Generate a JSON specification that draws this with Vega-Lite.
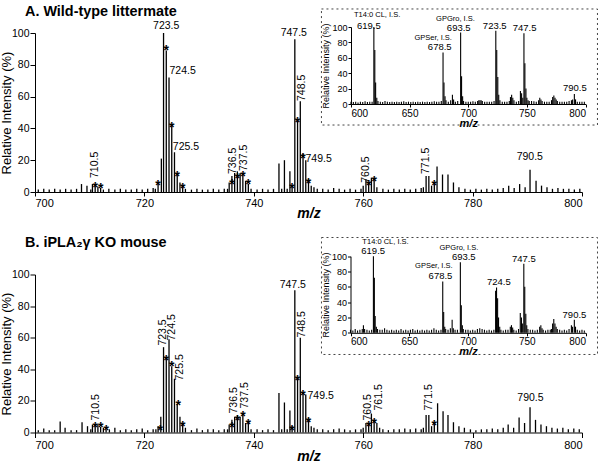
{
"$schema": "https://vega.github.io/schema/vega-lite/v6.json",
"background": "white",
"padding": {"left": 0, "top": 4, "right": 2, "bottom": 0},
"spacing": 14.5,
"config": {
  "font": "Liberation Sans",
  "view": {"stroke": null},
  "axis": {"domainColor": "black", "tickColor": "black", "labelColor": "black", "titleColor": "black", "grid": false, "labelFont": "Liberation Sans", "titleFont": "Liberation Sans", "domainWidth": 1, "tickWidth": 1, "labelOverlap": false},
  "title": {"color": "black", "font": "Liberation Sans"}
},
"datasets": {
  "wtMain": [
    {"mz":700.6,"i":1.5},{"mz":701.6,"i":2},{"mz":702.6,"i":1.5},{"mz":703.6,"i":2},{"mz":704.6,"i":1.5},{"mz":705.6,"i":2},{"mz":706.6,"i":1.5},{"mz":707.6,"i":2},{"mz":708.5,"i":5},{"mz":709.5,"i":4},{"mz":710.2,"i":1.5},{"mz":710.5,"i":5},{"mz":711.0,"i":4},{"mz":711.5,"i":3.5},{"mz":712.0,"i":2.5},{"mz":712.5,"i":1.5},{"mz":713.5,"i":2},{"mz":714.6,"i":1.5},{"mz":715.6,"i":2},{"mz":716.6,"i":1.5},{"mz":717.6,"i":1.5},{"mz":718.6,"i":2},{"mz":719.6,"i":1.5},{"mz":720.6,"i":2},{"mz":721.6,"i":2.5},{"mz":722.0,"i":2},{"mz":722.5,"i":5},{"mz":723.1,"i":21},{"mz":723.5,"i":100},{"mz":724.0,"i":89},{"mz":724.5,"i":72},{"mz":725.0,"i":42},{"mz":725.5,"i":25},{"mz":726.0,"i":11},{"mz":726.5,"i":6},{"mz":727.0,"i":4},{"mz":727.5,"i":2},{"mz":728.6,"i":1.5},{"mz":729.6,"i":2},{"mz":730.6,"i":1.5},{"mz":731.6,"i":1.5},{"mz":732.6,"i":2},{"mz":733.6,"i":1.5},{"mz":734.6,"i":2},{"mz":735.2,"i":2},{"mz":735.5,"i":6},{"mz":736.0,"i":10},{"mz":736.5,"i":12},{"mz":737.0,"i":13},{"mz":737.5,"i":12},{"mz":738.0,"i":11},{"mz":738.5,"i":7},{"mz":739.0,"i":5},{"mz":739.5,"i":2},{"mz":740.6,"i":1.5},{"mz":741.6,"i":2},{"mz":742.6,"i":1.5},{"mz":743.6,"i":2},{"mz":744.6,"i":18},{"mz":745.1,"i":2},{"mz":745.6,"i":20},{"mz":746.1,"i":2},{"mz":746.6,"i":13},{"mz":747.0,"i":4},{"mz":747.5,"i":96},{"mz":748.0,"i":45},{"mz":748.5,"i":57},{"mz":749.0,"i":24},{"mz":749.5,"i":20},{"mz":750.0,"i":8},{"mz":750.5,"i":4},{"mz":751.0,"i":3},{"mz":751.6,"i":2},{"mz":752.6,"i":2},{"mz":753.6,"i":1.5},{"mz":754.6,"i":2.5},{"mz":755.6,"i":2},{"mz":756.6,"i":1.5},{"mz":757.6,"i":2},{"mz":758.6,"i":1.5},{"mz":759.6,"i":2},{"mz":760.0,"i":4},{"mz":760.5,"i":8},{"mz":761.0,"i":6},{"mz":761.5,"i":9},{"mz":762.0,"i":9},{"mz":762.5,"i":3},{"mz":763.6,"i":2},{"mz":764.6,"i":1.5},{"mz":765.6,"i":2},{"mz":766.6,"i":1.5},{"mz":767.6,"i":2},{"mz":768.6,"i":1.5},{"mz":769.6,"i":2},{"mz":770.6,"i":2.5},{"mz":771.0,"i":3},{"mz":771.5,"i":10},{"mz":772.0,"i":10},{"mz":772.5,"i":4},{"mz":773.0,"i":5},{"mz":773.5,"i":16},{"mz":774.5,"i":11},{"mz":775.5,"i":11},{"mz":776.5,"i":6},{"mz":777.5,"i":3},{"mz":778.6,"i":2},{"mz":779.6,"i":1.5},{"mz":780.6,"i":2},{"mz":781.6,"i":1.5},{"mz":782.6,"i":2},{"mz":783.6,"i":1.5},{"mz":784.6,"i":2},{"mz":785.6,"i":2.5},{"mz":786.6,"i":4},{"mz":787.6,"i":2.5},{"mz":788.6,"i":5},{"mz":789.6,"i":3},{"mz":790.5,"i":14},{"mz":791.6,"i":7},{"mz":792.6,"i":4},{"mz":793.6,"i":3},{"mz":794.6,"i":2},{"mz":795.6,"i":2.5},{"mz":796.6,"i":2},{"mz":797.6,"i":2},{"mz":798.6,"i":1.5},{"mz":799.6,"i":2}
  ],
  "koMain": [
    {"mz":700.6,"i":1.5},{"mz":701.6,"i":2.5},{"mz":702.6,"i":1.5},{"mz":703.6,"i":1.5},{"mz":704.6,"i":7},{"mz":705.5,"i":3},{"mz":706.6,"i":1.5},{"mz":707.6,"i":1.5},{"mz":708.6,"i":6.5},{"mz":709.6,"i":4},{"mz":710.2,"i":2},{"mz":710.5,"i":5},{"mz":711.0,"i":5},{"mz":711.5,"i":5},{"mz":712.0,"i":3.5},{"mz":712.5,"i":3},{"mz":713.0,"i":2},{"mz":713.6,"i":2},{"mz":714.6,"i":3},{"mz":715.6,"i":1.5},{"mz":716.6,"i":2},{"mz":717.6,"i":1.5},{"mz":718.6,"i":2},{"mz":719.6,"i":2.5},{"mz":720.6,"i":1.5},{"mz":721.6,"i":2},{"mz":722.1,"i":2},{"mz":722.5,"i":4},{"mz":723.0,"i":10},{"mz":723.5,"i":54},{"mz":724.0,"i":47},{"mz":724.5,"i":59},{"mz":725.0,"i":42},{"mz":725.5,"i":34},{"mz":726.0,"i":18},{"mz":726.5,"i":10},{"mz":727.0,"i":5},{"mz":727.5,"i":3},{"mz":728.6,"i":1.5},{"mz":729.6,"i":2.5},{"mz":730.6,"i":1.5},{"mz":731.6,"i":2},{"mz":732.6,"i":2},{"mz":733.6,"i":1.5},{"mz":734.6,"i":2},{"mz":735.2,"i":2},{"mz":735.5,"i":5},{"mz":736.0,"i":8},{"mz":736.5,"i":10},{"mz":737.0,"i":11},{"mz":737.5,"i":10},{"mz":738.0,"i":12},{"mz":738.5,"i":6},{"mz":739.0,"i":6},{"mz":739.5,"i":2},{"mz":740.6,"i":2},{"mz":741.6,"i":1.5},{"mz":742.6,"i":2},{"mz":743.6,"i":1.5},{"mz":744.6,"i":25},{"mz":745.1,"i":2},{"mz":745.6,"i":19},{"mz":746.1,"i":2},{"mz":746.6,"i":14},{"mz":747.0,"i":4},{"mz":747.5,"i":90},{"mz":748.0,"i":34},{"mz":748.5,"i":60},{"mz":749.0,"i":25},{"mz":749.5,"i":24},{"mz":750.0,"i":9},{"mz":750.5,"i":4},{"mz":751.0,"i":3},{"mz":751.6,"i":2},{"mz":752.6,"i":2},{"mz":753.6,"i":1.5},{"mz":754.6,"i":2},{"mz":755.6,"i":2.5},{"mz":756.6,"i":2},{"mz":757.6,"i":1.5},{"mz":758.6,"i":2},{"mz":759.6,"i":2},{"mz":760.0,"i":3},{"mz":760.5,"i":6},{"mz":761.0,"i":6},{"mz":761.5,"i":12},{"mz":762.0,"i":8},{"mz":762.5,"i":6},{"mz":763.0,"i":3},{"mz":763.6,"i":2},{"mz":764.6,"i":1.5},{"mz":765.6,"i":2},{"mz":766.6,"i":2},{"mz":767.6,"i":2.5},{"mz":768.6,"i":2},{"mz":769.6,"i":2.5},{"mz":770.6,"i":2},{"mz":771.0,"i":3},{"mz":771.5,"i":11},{"mz":772.0,"i":11},{"mz":772.5,"i":4},{"mz":773.0,"i":6},{"mz":773.6,"i":18.5},{"mz":774.6,"i":13.5},{"mz":775.5,"i":11},{"mz":776.5,"i":6.5},{"mz":777.5,"i":4},{"mz":778.5,"i":3},{"mz":779.6,"i":2},{"mz":780.6,"i":1.5},{"mz":781.6,"i":2},{"mz":782.6,"i":2},{"mz":783.6,"i":2.5},{"mz":784.6,"i":2},{"mz":785.6,"i":3},{"mz":786.5,"i":5},{"mz":787.5,"i":3},{"mz":788.5,"i":9.5},{"mz":789.5,"i":6},{"mz":790.5,"i":16},{"mz":791.5,"i":8},{"mz":792.5,"i":5},{"mz":793.5,"i":4},{"mz":794.5,"i":3},{"mz":795.5,"i":2.5},{"mz":796.5,"i":3},{"mz":797.5,"i":2},{"mz":798.5,"i":2.5},{"mz":799.5,"i":2}
  ],
  "wtStars": [
    {"mz":711.0,"i":5},{"mz":712.0,"i":4.5},{"mz":722.5,"i":6},{"mz":724.0,"i":91},{"mz":725.0,"i":43},{"mz":726.0,"i":12},{"mz":727.0,"i":4.5},{"mz":736.0,"i":7},{"mz":737.0,"i":11},{"mz":738.0,"i":12},{"mz":739.0,"i":7},{"mz":747.0,"i":4.5},{"mz":748.0,"i":46},{"mz":749.0,"i":23},{"mz":750.0,"i":7.5},{"mz":761.0,"i":6},{"mz":762.0,"i":9},{"mz":773.0,"i":6}
  ],
  "koStars": [
    {"mz":711.0,"i":5.5},{"mz":712.0,"i":5.5},{"mz":713.0,"i":3.5},{"mz":722.9,"i":3.5},{"mz":724.0,"i":48},{"mz":725.0,"i":44},{"mz":726.2,"i":19},{"mz":727.0,"i":6},{"mz":736.0,"i":5.5},{"mz":737.0,"i":9.5},{"mz":738.0,"i":12.5},{"mz":739.0,"i":7},{"mz":747.0,"i":3.5},{"mz":748.0,"i":35},{"mz":749.0,"i":25.5},{"mz":750.0,"i":8.7},{"mz":761.0,"i":6},{"mz":762.0,"i":7.6},{"mz":773.0,"i":6.5}
  ],
  "wtLab": [
    {"mz":723.99,"i":101,"t":"723.5","k":"h"},{"mz":747.31,"i":97,"t":"747.5","k":"h"},{"mz":790.46,"i":19,"t":"790.5","k":"h"},
    {"mz":724.59,"i":76,"t":"724.5","k":"l"},{"mz":725.19,"i":28.5,"t":"725.5","k":"l"},{"mz":749.45,"i":20.6,"t":"749.5","k":"l"},
    {"mz":710.93,"i":8.8,"t":"710.5","k":"r"},{"mz":736.23,"i":11.3,"t":"736.5","k":"r"},{"mz":738.17,"i":13.2,"t":"737.5","k":"r"},{"mz":748.85,"i":57.2,"t":"748.5","k":"r"},{"mz":760.6,"i":5.8,"t":"760.5","k":"r"},{"mz":771.39,"i":11.3,"t":"771.5","k":"r"}
  ],
  "koLab": [
    {"mz":747.13,"i":90.5,"t":"747.5","k":"h"},{"mz":790.58,"i":18.7,"t":"790.5","k":"h"},
    {"mz":749.82,"i":23.4,"t":"749.5","k":"l"},
    {"mz":711.19,"i":7.6,"t":"710.5","k":"r"},{"mz":723.36,"i":55,"t":"723.5","k":"r"},{"mz":725.08,"i":58.2,"t":"724.5","k":"r"},{"mz":726.47,"i":32.9,"t":"725.5","k":"r"},{"mz":736.47,"i":12,"t":"736.5","k":"r"},{"mz":738.3,"i":15.2,"t":"737.5","k":"r"},{"mz":748.85,"i":60.1,"t":"748.5","k":"r"},{"mz":760.84,"i":7.6,"t":"760.5","k":"r"},{"mz":762.85,"i":13.9,"t":"761.5","k":"r"},{"mz":771.99,"i":13.9,"t":"771.5","k":"r"}
  ],
  "wtInset": [
    {"mz":600,"i":3},{"mz":602,"i":2.5},{"mz":604,"i":3},{"mz":606,"i":2},{"mz":608,"i":3},{"mz":610,"i":2.5},{"mz":612,"i":3.5},{"mz":614,"i":2.5},{"mz":616,"i":3},{"mz":618,"i":3},{"mz":619.5,"i":100},{"mz":620.3,"i":70},{"mz":621,"i":28},{"mz":622,"i":8},{"mz":623,"i":4},{"mz":625,"i":3},{"mz":627,"i":2.5},{"mz":629,"i":4},{"mz":631,"i":3},{"mz":633,"i":2.5},{"mz":635,"i":3},{"mz":637,"i":2.5},{"mz":639,"i":3},{"mz":641,"i":2.5},{"mz":643,"i":3},{"mz":645,"i":3.5},{"mz":647,"i":2.5},{"mz":649,"i":3},{"mz":651,"i":2.5},{"mz":653,"i":3},{"mz":655,"i":2.5},{"mz":657,"i":3},{"mz":659,"i":2.5},{"mz":661,"i":3},{"mz":663,"i":2.5},{"mz":665,"i":3},{"mz":667,"i":2.5},{"mz":669,"i":3},{"mz":671,"i":3.5},{"mz":673,"i":3},{"mz":675,"i":3},{"mz":677,"i":4},{"mz":678.5,"i":67},{"mz":679.3,"i":28},{"mz":680.2,"i":10},{"mz":681,"i":5},{"mz":683,"i":3},{"mz":685,"i":5},{"mz":686.5,"i":12},{"mz":687.5,"i":6},{"mz":689,"i":3},{"mz":691,"i":4},{"mz":693.5,"i":93},{"mz":694.3,"i":36},{"mz":695.2,"i":10},{"mz":696,"i":4},{"mz":698,"i":3},{"mz":700,"i":3},{"mz":702,"i":3},{"mz":704,"i":3.5},{"mz":706,"i":3},{"mz":708,"i":4},{"mz":709,"i":5},{"mz":710,"i":5},{"mz":711,"i":5},{"mz":712,"i":4},{"mz":714,"i":3},{"mz":716,"i":3},{"mz":718,"i":3},{"mz":720,"i":3},{"mz":722,"i":4},{"mz":723.5,"i":95},{"mz":724.3,"i":70},{"mz":725.2,"i":35},{"mz":726,"i":12},{"mz":727,"i":5},{"mz":729,"i":3},{"mz":731,"i":3},{"mz":733,"i":3},{"mz":735,"i":4},{"mz":736,"i":9},{"mz":737,"i":12},{"mz":738,"i":8},{"mz":739,"i":5},{"mz":741,"i":3},{"mz":743,"i":4},{"mz":744.5,"i":17},{"mz":745.5,"i":14},{"mz":746.5,"i":8},{"mz":747.5,"i":92},{"mz":748.3,"i":53},{"mz":749.2,"i":20},{"mz":750,"i":8},{"mz":751,"i":5},{"mz":752,"i":4},{"mz":754,"i":4},{"mz":756,"i":3.5},{"mz":758,"i":3},{"mz":760,"i":5},{"mz":761,"i":8},{"mz":762,"i":6},{"mz":763,"i":4},{"mz":765,"i":3},{"mz":767,"i":3},{"mz":769,"i":3},{"mz":771,"i":5},{"mz":772,"i":9},{"mz":773,"i":11},{"mz":774,"i":8},{"mz":775,"i":6},{"mz":776,"i":4},{"mz":778,"i":3},{"mz":780,"i":3},{"mz":782,"i":3},{"mz":784,"i":3},{"mz":786,"i":4},{"mz":788,"i":5},{"mz":789,"i":6},{"mz":790.5,"i":13},{"mz":791.5,"i":6},{"mz":793,"i":3},{"mz":795,"i":3},{"mz":797,"i":3},{"mz":799,"i":3}
  ],
  "koInset": [
    {"mz":600,"i":4},{"mz":602,"i":3},{"mz":604,"i":5},{"mz":606,"i":3},{"mz":608,"i":4},{"mz":610,"i":5},{"mz":611,"i":10},{"mz":612,"i":5},{"mz":614,"i":4},{"mz":616,"i":3},{"mz":618,"i":4},{"mz":619.5,"i":100},{"mz":620.3,"i":72},{"mz":621,"i":22},{"mz":622,"i":8},{"mz":623,"i":5},{"mz":625,"i":4},{"mz":627,"i":4},{"mz":629,"i":6},{"mz":631,"i":4},{"mz":633,"i":3},{"mz":635,"i":4},{"mz":637,"i":3},{"mz":639,"i":4},{"mz":641,"i":3},{"mz":643,"i":5},{"mz":645,"i":3},{"mz":647,"i":4},{"mz":649,"i":3},{"mz":651,"i":4},{"mz":653,"i":5},{"mz":655,"i":3},{"mz":657,"i":4},{"mz":659,"i":3},{"mz":661,"i":4},{"mz":663,"i":3},{"mz":665,"i":4},{"mz":667,"i":3},{"mz":669,"i":4},{"mz":671,"i":6},{"mz":673,"i":4},{"mz":675,"i":3},{"mz":677,"i":4},{"mz":678.5,"i":67},{"mz":679.3,"i":27},{"mz":680.2,"i":8},{"mz":681,"i":5},{"mz":683,"i":4},{"mz":685,"i":6},{"mz":686.5,"i":17},{"mz":687.5,"i":6},{"mz":689,"i":4},{"mz":691,"i":4},{"mz":693.5,"i":92},{"mz":694.3,"i":36},{"mz":695.2,"i":10},{"mz":696,"i":5},{"mz":698,"i":4},{"mz":700,"i":4},{"mz":702,"i":3},{"mz":704,"i":4},{"mz":706,"i":3},{"mz":708,"i":5},{"mz":710,"i":6},{"mz":712,"i":5},{"mz":714,"i":4},{"mz":716,"i":3},{"mz":718,"i":4},{"mz":720,"i":3},{"mz":722,"i":4},{"mz":723.5,"i":55},{"mz":724.3,"i":59},{"mz":725.2,"i":45},{"mz":726,"i":20},{"mz":727,"i":8},{"mz":728,"i":4},{"mz":730,"i":3},{"mz":732,"i":4},{"mz":734,"i":4},{"mz":736,"i":8},{"mz":737,"i":10},{"mz":738,"i":7},{"mz":739,"i":4},{"mz":741,"i":3},{"mz":743,"i":5},{"mz":744.5,"i":26},{"mz":745.5,"i":20},{"mz":746.5,"i":12},{"mz":747.5,"i":90},{"mz":748.3,"i":60},{"mz":749.2,"i":25},{"mz":750,"i":10},{"mz":751,"i":5},{"mz":753,"i":4},{"mz":755,"i":4},{"mz":757,"i":3},{"mz":759,"i":4},{"mz":761,"i":8},{"mz":762,"i":10},{"mz":763,"i":6},{"mz":764,"i":4},{"mz":766,"i":3},{"mz":768,"i":4},{"mz":770,"i":4},{"mz":771,"i":5},{"mz":772,"i":12},{"mz":773,"i":18},{"mz":774,"i":12},{"mz":775,"i":8},{"mz":776,"i":5},{"mz":778,"i":4},{"mz":780,"i":3},{"mz":782,"i":4},{"mz":784,"i":3},{"mz":786,"i":5},{"mz":788,"i":10},{"mz":789,"i":8},{"mz":790.5,"i":17},{"mz":791.5,"i":8},{"mz":793,"i":4},{"mz":795,"i":3},{"mz":797,"i":4},{"mz":799,"i":3}
  ],
  "wtInLab": [
    {"mz":622.3,"i":116,"t":"T14:0 CL, I.S.","k":"s"},{"mz":615.2,"i":101.3,"t":"619.5","k":"n"},
    {"mz":689.1,"i":111,"t":"GPGro, I.S.","k":"s"},{"mz":691.9,"i":99.1,"t":"693.5","k":"n"},
    {"mz":670.1,"i":86,"t":"GPSer, I.S.","k":"s"},{"mz":675.7,"i":74,"t":"678.5","k":"n"},
    {"mz":722.6,"i":101.3,"t":"723.5","k":"n"},{"mz":748.0,"i":99.1,"t":"747.5","k":"n"},{"mz":790.9,"i":20.4,"t":"790.5","k":"n"}
  ],
  "koInLab": [
    {"mz":629.8,"i":118.3,"t":"T14:0 CL, I.S.","k":"s"},{"mz":619.3,"i":106.5,"t":"619.5","k":"n"},
    {"mz":692.2,"i":111,"t":"GPGro, I.S.","k":"s"},{"mz":696.4,"i":99.6,"t":"693.5","k":"n"},
    {"mz":670.9,"i":87,"t":"GPSer, I.S.","k":"s"},{"mz":676.6,"i":74.8,"t":"678.5","k":"n"},
    {"mz":726.2,"i":66.1,"t":"724.5","k":"n"},{"mz":747.5,"i":96.6,"t":"747.5","k":"n"},{"mz":790.6,"i":22.6,"t":"790.5","k":"n"}
  ]
},
"vconcat": [
  {
    "title": {"text": "A. Wild-type littermate", "anchor": "start", "frame": "group", "fontSize": 14.4, "fontWeight": "bold", "dx": -10, "offset": -11},
    "width": 547, "height": 159,
    "resolve": {"scale": {"x": "independent", "y": "independent"}, "axis": {"x": "independent", "y": "independent"}},
    "layer": [
      {"data": {"name": "wtMain"}, "mark": {"type": "rule", "color": "black", "strokeWidth": 1.3},
       "encoding": {
         "x": {"field": "mz", "type": "quantitative", "scale": {"domain": [700, 800], "nice": false, "zero": false},
               "axis": {"orient": "bottom", "values": [700,720,740,760,780,800], "title": "m/z", "titleFontStyle": "italic", "titleFontWeight": "bold", "titleFontSize": 14, "labelFontSize": 11, "tickSize": 4, "labelPadding": 1, "titlePadding": -2}},
         "y": {"field": "i", "type": "quantitative", "scale": {"domain": [0, 100], "nice": false, "zero": false},
               "axis": {"orient": "left", "values": [0,20,40,60,80,100], "title": "Relative Intensity (%)", "titleFontSize": 13, "titleFontWeight": "normal", "labelFontSize": 10.5, "tickSize": 5, "labelPadding": 1, "titlePadding": -2}},
         "y2": {"datum": 0}}},
      {"data": {"name": "wtStars"}, "mark": {"type": "text", "text": "*", "fontSize": 14, "fontWeight": "bold", "baseline": "middle", "dy": 4, "color": "black"},
       "encoding": {"x": {"field": "mz", "type": "quantitative", "scale": {"domain": [700, 800], "nice": false, "zero": false}, "axis": null}, "y": {"field": "i", "type": "quantitative", "scale": {"domain": [0, 100], "nice": false, "zero": false}, "axis": null}}},
      {"data": {"name": "wtLab"}, "transform": [{"filter": "datum.k === 'h'"}], "mark": {"type": "text", "align": "center", "baseline": "bottom", "fontSize": 10.5, "color": "black"},
       "encoding": {"x": {"field": "mz", "type": "quantitative", "scale": {"domain": [700, 800], "nice": false, "zero": false}, "axis": null}, "y": {"field": "i", "type": "quantitative", "scale": {"domain": [0, 100], "nice": false, "zero": false}, "axis": null}, "text": {"field": "t"}}},
      {"data": {"name": "wtLab"}, "transform": [{"filter": "datum.k === 'l'"}], "mark": {"type": "text", "align": "left", "baseline": "middle", "fontSize": 10.5, "color": "black"},
       "encoding": {"x": {"field": "mz", "type": "quantitative", "scale": {"domain": [700, 800], "nice": false, "zero": false}, "axis": null}, "y": {"field": "i", "type": "quantitative", "scale": {"domain": [0, 100], "nice": false, "zero": false}, "axis": null}, "text": {"field": "t"}}},
      {"data": {"name": "wtLab"}, "transform": [{"filter": "datum.k === 'r'"}], "mark": {"type": "text", "align": "left", "baseline": "middle", "angle": 270, "fontSize": 10.5, "color": "black"},
       "encoding": {"x": {"field": "mz", "type": "quantitative", "scale": {"domain": [700, 800], "nice": false, "zero": false}, "axis": null}, "y": {"field": "i", "type": "quantitative", "scale": {"domain": [0, 100], "nice": false, "zero": false}, "axis": null}, "text": {"field": "t"}}},
      {"data": {"values": [{}]}, "mark": {"type": "rect", "filled": false, "stroke": "#444", "strokeWidth": 1, "strokeDash": [2, 3]},
       "encoding": {
         "x": {"datum": 574.8, "type": "quantitative", "scale": {"domain": [600, 800], "range": [316, 550.5], "nice": false, "zero": false}, "axis": null},
         "x2": {"datum": 810.2},
         "y": {"datum": -27.3, "type": "quantitative", "scale": {"domain": [0, 100], "range": [71, -6], "nice": false, "zero": false}, "axis": null},
         "y2": {"datum": 123.4}}},
      {"data": {"name": "wtInset"}, "mark": {"type": "rule", "color": "black", "strokeWidth": 1.1},
       "encoding": {
         "x": {"field": "mz", "type": "quantitative", "scale": {"domain": [600, 800], "range": [316, 550.5], "nice": false, "zero": false},
               "axis": {"orient": "bottom", "offset": -88, "values": [600,650,700,750,800], "title": "m/z", "titleFontStyle": "italic", "titleFontWeight": "bold", "titleFontSize": 11, "labelFontSize": 10, "tickSize": 3, "labelPadding": 1, "titlePadding": -1}},
         "y": {"field": "i", "type": "quantitative", "scale": {"domain": [0, 100], "range": [71, -6], "nice": false, "zero": false},
               "axis": {"orient": "left", "offset": -316, "values": [0,20,40,60,80,100], "title": "Relative Intensity (%)", "titleFontSize": 9, "titleFontWeight": "normal", "labelFontSize": 9, "tickSize": 3, "labelPadding": 1, "titlePadding": 1}},
         "y2": {"datum": 0}}},
      {"data": {"name": "wtInLab"}, "transform": [{"filter": "datum.k === 'n'"}], "mark": {"type": "text", "align": "center", "baseline": "middle", "fontSize": 9.5, "color": "black"},
       "encoding": {"x": {"field": "mz", "type": "quantitative", "scale": {"domain": [600, 800], "range": [316, 550.5], "nice": false, "zero": false}, "axis": null}, "y": {"field": "i", "type": "quantitative", "scale": {"domain": [0, 100], "range": [71, -6], "nice": false, "zero": false}, "axis": null}, "text": {"field": "t"}}},
      {"data": {"name": "wtInLab"}, "transform": [{"filter": "datum.k === 's'"}], "mark": {"type": "text", "align": "center", "baseline": "middle", "fontSize": 7.5, "color": "black"},
       "encoding": {"x": {"field": "mz", "type": "quantitative", "scale": {"domain": [600, 800], "range": [316, 550.5], "nice": false, "zero": false}, "axis": null}, "y": {"field": "i", "type": "quantitative", "scale": {"domain": [0, 100], "range": [71, -6], "nice": false, "zero": false}, "axis": null}, "text": {"field": "t"}}}
    ]
  },
  {
    "title": {"text": "B. iPLA₂γ KO mouse", "anchor": "start", "frame": "group", "fontSize": 14.4, "fontWeight": "bold", "dx": -10, "offset": -13},
    "width": 547, "height": 158,
    "resolve": {"scale": {"x": "independent", "y": "independent"}, "axis": {"x": "independent", "y": "independent"}},
    "layer": [
      {"data": {"name": "koMain"}, "mark": {"type": "rule", "color": "black", "strokeWidth": 1.3},
       "encoding": {
         "x": {"field": "mz", "type": "quantitative", "scale": {"domain": [700, 800], "nice": false, "zero": false},
               "axis": {"orient": "bottom", "values": [700,720,740,760,780,800], "title": "m/z", "titleFontStyle": "italic", "titleFontWeight": "bold", "titleFontSize": 14, "labelFontSize": 11, "tickSize": 5, "labelPadding": 2, "titlePadding": -1}},
         "y": {"field": "i", "type": "quantitative", "scale": {"domain": [0, 100], "nice": false, "zero": false},
               "axis": {"orient": "left", "values": [0,20,40,60,80,100], "title": "Relative Intensity (%)", "titleFontSize": 13, "titleFontWeight": "normal", "labelFontSize": 10.5, "tickSize": 5, "labelPadding": 1, "titlePadding": -2}},
         "y2": {"datum": 0}}},
      {"data": {"name": "koStars"}, "mark": {"type": "text", "text": "*", "fontSize": 14, "fontWeight": "bold", "baseline": "middle", "dy": 4, "color": "black"},
       "encoding": {"x": {"field": "mz", "type": "quantitative", "scale": {"domain": [700, 800], "nice": false, "zero": false}, "axis": null}, "y": {"field": "i", "type": "quantitative", "scale": {"domain": [0, 100], "nice": false, "zero": false}, "axis": null}}},
      {"data": {"name": "koLab"}, "transform": [{"filter": "datum.k === 'h'"}], "mark": {"type": "text", "align": "center", "baseline": "bottom", "fontSize": 10.5, "color": "black"},
       "encoding": {"x": {"field": "mz", "type": "quantitative", "scale": {"domain": [700, 800], "nice": false, "zero": false}, "axis": null}, "y": {"field": "i", "type": "quantitative", "scale": {"domain": [0, 100], "nice": false, "zero": false}, "axis": null}, "text": {"field": "t"}}},
      {"data": {"name": "koLab"}, "transform": [{"filter": "datum.k === 'l'"}], "mark": {"type": "text", "align": "left", "baseline": "middle", "fontSize": 10.5, "color": "black"},
       "encoding": {"x": {"field": "mz", "type": "quantitative", "scale": {"domain": [700, 800], "nice": false, "zero": false}, "axis": null}, "y": {"field": "i", "type": "quantitative", "scale": {"domain": [0, 100], "nice": false, "zero": false}, "axis": null}, "text": {"field": "t"}}},
      {"data": {"name": "koLab"}, "transform": [{"filter": "datum.k === 'r'"}], "mark": {"type": "text", "align": "left", "baseline": "middle", "angle": 270, "fontSize": 10.5, "color": "black"},
       "encoding": {"x": {"field": "mz", "type": "quantitative", "scale": {"domain": [700, 800], "nice": false, "zero": false}, "axis": null}, "y": {"field": "i", "type": "quantitative", "scale": {"domain": [0, 100], "nice": false, "zero": false}, "axis": null}, "text": {"field": "t"}}},
      {"data": {"values": [{}]}, "mark": {"type": "rect", "filled": false, "stroke": "#444", "strokeWidth": 1, "strokeDash": [2, 3]},
       "encoding": {
         "x": {"datum": 575.3, "type": "quantitative", "scale": {"domain": [600, 800], "range": [315.5, 550.5], "nice": false, "zero": false}, "axis": null},
         "x2": {"datum": 810.2},
         "y": {"datum": -28.3, "type": "quantitative", "scale": {"domain": [0, 100], "range": [58.3, -18.3], "nice": false, "zero": false}, "axis": null},
         "y2": {"datum": 124.4}}},
      {"data": {"name": "koInset"}, "mark": {"type": "rule", "color": "black", "strokeWidth": 1.1},
       "encoding": {
         "x": {"field": "mz", "type": "quantitative", "scale": {"domain": [600, 800], "range": [315.5, 550.5], "nice": false, "zero": false},
               "axis": {"orient": "bottom", "offset": -99.7, "values": [600,650,700,750,800], "title": "m/z", "titleFontStyle": "italic", "titleFontWeight": "bold", "titleFontSize": 11, "labelFontSize": 10, "tickSize": 3, "labelPadding": 1, "titlePadding": -1}},
         "y": {"field": "i", "type": "quantitative", "scale": {"domain": [0, 100], "range": [58.3, -18.3], "nice": false, "zero": false},
               "axis": {"orient": "left", "offset": -315.5, "values": [0,20,40,60,80,100], "title": "Relative Intensity (%)", "titleFontSize": 9, "titleFontWeight": "normal", "labelFontSize": 9, "tickSize": 3, "labelPadding": 1, "titlePadding": 1}},
         "y2": {"datum": 0}}},
      {"data": {"name": "koInLab"}, "transform": [{"filter": "datum.k === 'n'"}], "mark": {"type": "text", "align": "center", "baseline": "middle", "fontSize": 9.5, "color": "black"},
       "encoding": {"x": {"field": "mz", "type": "quantitative", "scale": {"domain": [600, 800], "range": [315.5, 550.5], "nice": false, "zero": false}, "axis": null}, "y": {"field": "i", "type": "quantitative", "scale": {"domain": [0, 100], "range": [58.3, -18.3], "nice": false, "zero": false}, "axis": null}, "text": {"field": "t"}}},
      {"data": {"name": "koInLab"}, "transform": [{"filter": "datum.k === 's'"}], "mark": {"type": "text", "align": "center", "baseline": "middle", "fontSize": 7.5, "color": "black"},
       "encoding": {"x": {"field": "mz", "type": "quantitative", "scale": {"domain": [600, 800], "range": [315.5, 550.5], "nice": false, "zero": false}, "axis": null}, "y": {"field": "i", "type": "quantitative", "scale": {"domain": [0, 100], "range": [58.3, -18.3], "nice": false, "zero": false}, "axis": null}, "text": {"field": "t"}}}
    ]
  }
]
}
